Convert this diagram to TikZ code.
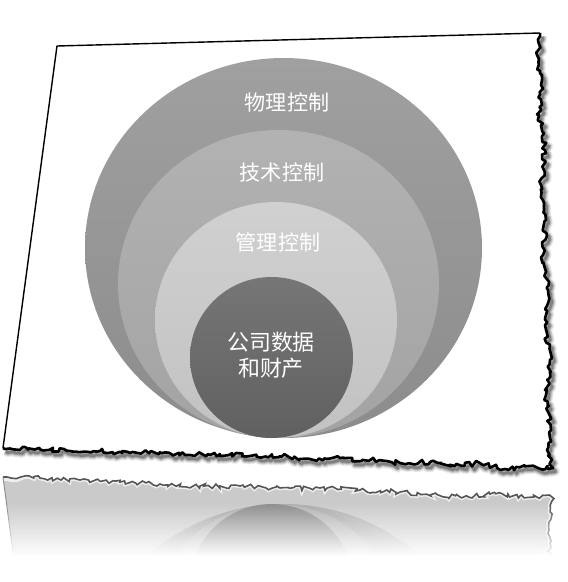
\documentclass[tikz,border=0pt]{standalone}
\usepackage{fontspec}
\usepackage{tikz}
\usetikzlibrary{decorations.pathmorphing, fadings}
\newfontfamily\cjk{Noto Sans CJK SC}
\definecolor{cRingAt}{RGB}{160,160,160}
\definecolor{cRingAb}{RGB}{140,140,140}
\definecolor{cRingBt}{RGB}{178,178,178}
\definecolor{cRingBb}{RGB}{163,163,163}
\definecolor{cRingCt}{RGB}{208,208,208}
\definecolor{cRingCb}{RGB}{194,194,194}
\definecolor{cCoreT}{RGB}{118,118,118}
\definecolor{cCoreB}{RGB}{96,96,96}
\definecolor{cRefl}{RGB}{202,202,202}
\definecolor{cReflLine}{RGB}{85,85,85}
\tikzfading[name=fadeout, top color=transparent!100, bottom color=transparent!0]
\tikzset{
	tornedge/.style ={decoration={random steps, segment length=1.8pt, amplitude=1.4pt}},
	paperline/.style={line width=0.8pt, black, line join=round},
	tornline/.style ={line width=1.5pt, black, line join=round},
	lbl/.style      ={text=white, font=\cjk\fontsize{12pt}{15pt}\selectfont, inner sep=1pt},
	corelbl/.style  ={text=white, font=\cjk\fontsize{12.5pt}{15pt}\selectfont, align=center, inner sep=1pt},
}
% torn right and bottom edge of the sheet
\newcommand\rightedge{-- (537,55) -- (541,85) -- (539,115) -- (545,150) -- (541,185) -- (546,220) -- (543,255) -- (548,290) -- (545,325) -- (550,360) -- (546,395) -- (551,430) -- (547,450) -- (553,468)}
\newcommand\bottomedge{-- (530,466) -- (505,469) -- (480,463) -- (455,466) -- (430,462) -- (400,463) -- (370,460) -- (340,458) -- (310,459) -- (280,456) -- (250,456) -- (220,454) -- (190,455) -- (160,452) -- (130,453) -- (100,451) -- (70,451) -- (40,449) -- (3,448)}
\newcommand\refledge{-- (40,478) -- (80,480) -- (120,482) -- (160,484) -- (200,486) -- (240,486) -- (280,488) -- (320,488) -- (360,490) -- (400,492) -- (430,495) -- (460,497) -- (490,494) -- (520,496) -- (552,497)}

\begin{document}
\begin{tikzpicture}[x=0.02cm, y=-0.02cm]
	\useasboundingbox (0,0) rectangle (568,582);
	% reflection
	\pgfmathsetseed{11}
	\fill[cRefl] (3,477) decorate[tornedge]{\refledge -- (549,530) -- (552,575)} -- (16,575) -- cycle;
	\begin{scope}
		\clip (0,492) rectangle (568,582);
		\fill[cRingAb, fill opacity=0.45] (283.5,694) ellipse [x radius=198.5, y radius=190];
		\fill[cRingBb, fill opacity=0.45] (278.5,658) ellipse [x radius=160.5, y radius=154];
		\fill[cRingCb, fill opacity=0.45] (276,622) ellipse [x radius=121, y radius=118];
		\fill[cCoreB, fill opacity=0.45] (271.5,584.5) ellipse [x radius=81.5, y radius=80.5];
	\end{scope}
	\pgfmathsetseed{11}
	\draw[white, line width=2.6pt, opacity=0.7] (3,479) decorate[tornedge]{\refledge -- (549,530) -- (552,575)};
	\pgfmathsetseed{11}
	\draw[cReflLine, line width=0.9pt] (3,477) decorate[tornedge]{\refledge -- (549,530) -- (552,575)};
	\draw[cReflLine!70, line width=0.5pt] (3,477) -- (16,575);
	\fill[white, path fading=fadeout, fit fading=true] (0,503) rectangle (568,556);
	\fill[white] (0,556) rectangle (568,582);
	% shadow of the torn edge
	\foreach \w/\o in {5/0.08, 3.8/0.12, 2.6/0.17, 1.5/0.25} {
		\pgfmathsetseed{7}
		\draw[shift={(2.5,3.5)}, line width=\w pt, black, opacity=\o, line join=round] (540,33) decorate[tornedge]{\rightedge \bottomedge};
	}
	% sheet
	\pgfmathsetseed{7}
	\fill[white] (57,46) -- (540,33) decorate[tornedge]{\rightedge \bottomedge} -- cycle;
	% nested circles
	\shade[top color=cRingAt, bottom color=cRingAb] (283.5,248) ellipse [x radius=198.5, y radius=190];
	\shade[top color=cRingBt, bottom color=cRingBb] (278.5,284) ellipse [x radius=160.5, y radius=154];
	\shade[top color=cRingCt, bottom color=cRingCb] (276,320) ellipse [x radius=121, y radius=118];
	\shade[top color=cCoreT, bottom color=cCoreB] (271.5,357.5) ellipse [x radius=81.5, y radius=80.5];
	\node[lbl] (phys) at (287,102) {物理控制};
	\node[lbl] (tech) at (282,172) {技术控制};
	\node[lbl] (mgmt) at (278,242) {管理控制};
	\node[corelbl] (core) at (271,355) {公司数据\\和财产};
	% outline
	\draw[paperline] (3,448) -- (57,46) -- (540,33);
	\pgfmathsetseed{7}
	\draw[tornline] (540,33) decorate[tornedge]{\rightedge \bottomedge};
\end{tikzpicture}
\end{document}
